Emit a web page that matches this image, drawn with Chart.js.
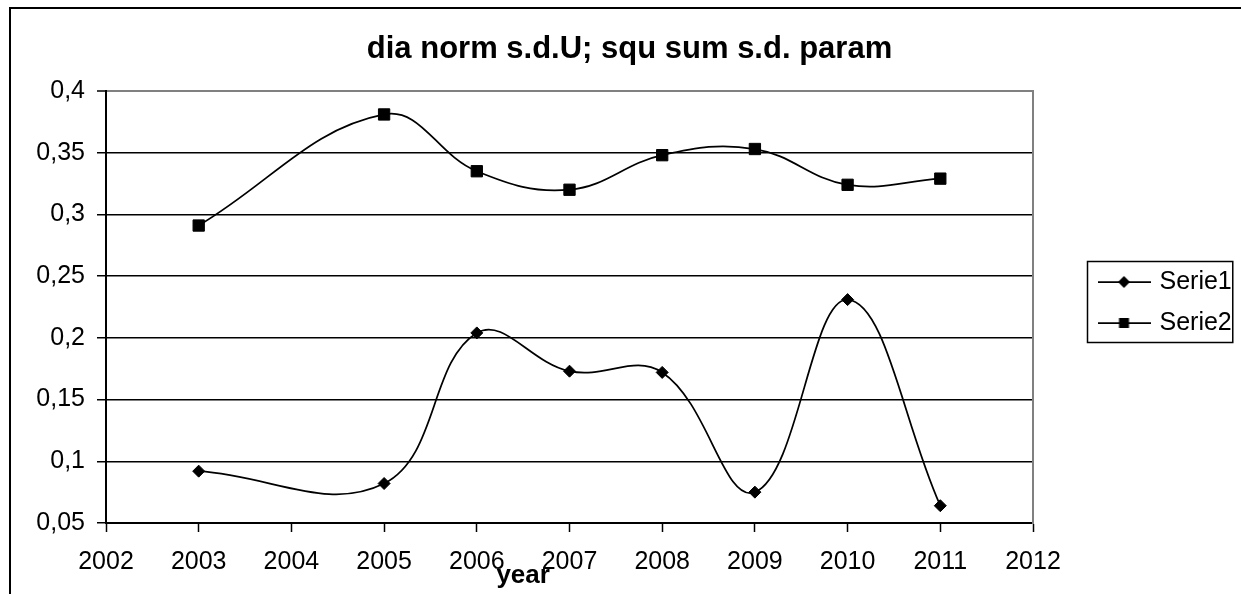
<!DOCTYPE html>
<html>
<head>
<meta charset="utf-8">
<script src="https://cdn.jsdelivr.net/npm/chart.js@4.4.0/dist/chart.umd.min.js"></script>
<style>
  html, body { margin: 0; padding: 0; background: #fff; overflow: hidden; }
  #frame { position: absolute; left: 9px; top: 7px; width: 1400px; height: 800px;
           border-left: 2px solid #000; border-top: 2px solid #000; }
  #chart { position: absolute; left: 0; top: 0; }
</style>
</head>
<body>
<div id="frame"></div>
<canvas id="chart" width="1241" height="594"></canvas>
<script>
const years = [2003, 2005, 2006, 2007, 2008, 2009, 2010, 2011];
const serie1 = [0.092, 0.082, 0.204, 0.173, 0.172, 0.075, 0.231, 0.064];
const serie2 = [0.291, 0.381, 0.335, 0.320, 0.348, 0.353, 0.324, 0.329];
const seriesNames = ['Serie1', 'Serie2'];
const xRange = [2002, 2012];
const yRange = [0.05, 0.4];
const yStep = 0.05;
const titleText = 'dia norm s.d.U; squ sum s.d. param';
const xTitle = 'year';

const FONT = '"Liberation Sans", Arial, sans-serif';

// little legend symbol: line with the marker in the middle
function makeSymbol(kind) {
  const c = document.createElement('canvas');
  c.width = 53;
  c.height = 16;
  const g = c.getContext('2d');
  g.strokeStyle = '#000';
  g.fillStyle = '#000';
  g.lineWidth = 1.75;
  g.beginPath();
  g.moveTo(0, 8);
  g.lineTo(53, 8);
  g.stroke();
  g.beginPath();
  if (kind === 'diamond') {
    g.moveTo(26.5, 2);
    g.lineTo(32.5, 8);
    g.lineTo(26.5, 14);
    g.lineTo(20.5, 8);
    g.closePath();
  } else {
    g.rect(21.5, 3, 10, 10);
  }
  g.fill();
  return c;
}
const symbols = [makeSymbol('diamond'), makeSymbol('square')];

const extras = {
  id: 'extras',
  afterDraw(chart) {
    const ctx = chart.ctx;
    const area = chart.chartArea;
    ctx.save();
    ctx.fillStyle = '#000';
    ctx.font = 'bold 26px ' + FONT;
    ctx.textAlign = 'center';
    ctx.textBaseline = 'alphabetic';
    ctx.fillText(xTitle, area.left + (area.right - area.left) * 0.45, 583);

    const hb = chart.legend.legendHitBoxes;
    if (hb && hb.length) {
      const first = hb[0];
      const last = hb[hb.length - 1];
      const top = first.top - 8;
      ctx.strokeStyle = '#000';
      ctx.lineWidth = 1.5;
      ctx.strokeRect(first.left - 13.5, top,
        first.width + 14.5, last.top + last.height + 7 - top);
    }
    ctx.restore();
  }
};

const ctx = document.getElementById('chart').getContext('2d');

const chart = new Chart(ctx, {
  type: 'line',
  data: {
    datasets: [{
      label: seriesNames[0],
      data: years.map((y, i) => ({ x: y, y: serie1[i] })),
      borderColor: '#000',
      backgroundColor: '#000',
      borderWidth: 1.75,
      pointStyle: 'rectRot',
      pointRadius: 6,
      pointBorderWidth: 1,
      pointBackgroundColor: '#000',
      pointBorderColor: '#000',
      tension: 0.4,
      fill: false
    }, {
      label: seriesNames[1],
      data: years.map((y, i) => ({ x: y, y: serie2[i] })),
      borderColor: '#000',
      backgroundColor: '#000',
      borderWidth: 1.75,
      pointStyle: 'rect',
      pointRadius: 8,
      pointBorderWidth: 1,
      pointBackgroundColor: '#000',
      pointBorderColor: '#000',
      tension: 0.4,
      fill: false
    }]
  },
  options: {
    responsive: false,
    animation: false,
    layout: { padding: { left: 18, top: 11, right: 0, bottom: 0 } },
    plugins: {
      title: {
        display: true,
        text: titleText,
        color: '#000',
        font: { family: FONT, size: 31, weight: 'bold' },
        padding: { top: 20, bottom: 22.8 }
      },
      legend: {
        position: 'right',
        maxWidth: 156,
        labels: {
          color: '#000',
          font: { family: FONT, size: 25 },
          usePointStyle: true,
          pointStyleWidth: 46,
          padding: 16,
          generateLabels(chart) {
            const items = Chart.defaults.plugins.legend.labels.generateLabels(chart);
            items.forEach((it, i) => { it.pointStyle = symbols[i]; });
            return items;
          }
        }
      },
      tooltip: { enabled: false }
    },
    scales: {
      x: {
        type: 'linear',
        min: xRange[0],
        max: xRange[1],
        afterFit(s) { s.height = 71; },
        ticks: {
          stepSize: 1,
          color: '#000',
          font: { family: FONT, size: 25 },
          padding: 15,
          maxRotation: 0,
          callback: v => String(v)
        },
        grid: {
          drawOnChartArea: false,
          drawTicks: true,
          tickLength: 9,
          tickColor: '#000',
          tickWidth: 1.5
        },
        border: { display: true, color: '#000', width: 2 }
      },
      y: {
        min: yRange[0],
        max: yRange[1],
        afterFit(s) { s.width = 88; },
        ticks: {
          stepSize: yStep,
          color: '#000',
          font: { family: FONT, size: 25 },
          padding: 12,
          callback: v => (Math.round(v * 100) / 100).toString().replace('.', ',')
        },
        grid: {
          color: c => (c.tick && Math.abs(c.tick.value - yRange[1]) < 1e-9) ? '#808080' : '#000',
          lineWidth: c => (c.tick && Math.abs(c.tick.value - yRange[1]) < 1e-9) ? 2 : 1.5,
          tickLength: 9,
          tickColor: '#000',
          tickWidth: 1.5
        },
        border: { display: true, color: '#000', width: 2 }
      },
      y2: {
        type: 'linear',
        position: 'right',
        afterFit(s) { s.width = 52; },
        ticks: { display: false },
        grid: { display: false },
        border: { display: true, color: '#808080', width: 2 }
      }
    }
  },
  plugins: [extras]
});
</script>
</body>
</html>
